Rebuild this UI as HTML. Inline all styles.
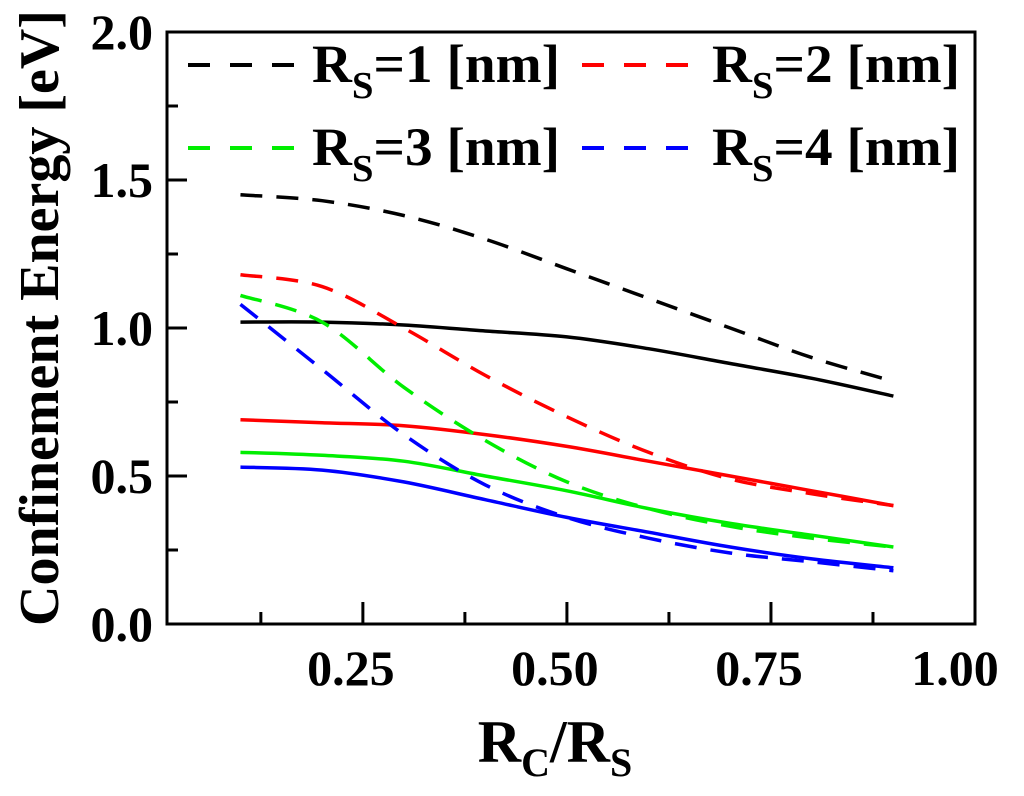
<!DOCTYPE html>
<html><head><meta charset="utf-8"><style>
body{margin:0;background:#fff}
svg text{font-family:"Liberation Serif",serif;font-weight:bold;fill:#000}
</style></head><body>
<svg width="1024" height="791">
<g id="plot"></g>
</svg>
<script>
const xs=[0.1,0.2,0.3,0.4,0.5,0.6,0.7,0.8,0.9];
const bkDash=[1.45,1.43,1.38,1.30,1.20,1.10,1.00,0.90,0.82];
const bkSolid=[1.02,1.02,1.01,0.99,0.97,0.93,0.88,0.83,0.77];
const rdDash=[1.18,1.14,1.00,0.84,0.70,0.58,0.49,0.44,0.40];
const rdSolid=[0.69,0.68,0.67,0.64,0.60,0.55,0.50,0.45,0.40];
const gnDash=[1.11,1.02,0.80,0.62,0.48,0.39,0.33,0.29,0.26];
const gnSolid=[0.58,0.57,0.55,0.50,0.45,0.39,0.34,0.30,0.26];
const buDash=[1.08,0.86,0.64,0.47,0.36,0.29,0.24,0.21,0.18];
const buSolid=[0.53,0.52,0.48,0.42,0.36,0.31,0.26,0.22,0.19];
const xTicks=[0.25,0.5,0.75,1.0];
const xTickLabels=["0.25","0.50","0.75","1.00"];
const yTicks=[0,0.5,1.0,1.5,2.0];
const yTickLabels=["0.0","0.5","1.0","1.5","2.0"];
const L=167,R=975,T=32,B=624,X0=0.01,X1=1.0,Y0=0,Y1=2;
const sx=v=>L+(v-X0)/(X1-X0)*(R-L);
const sy=v=>B-(v-Y0)/(Y1-Y0)*(B-T);
const NS="http://www.w3.org/2000/svg";
const g=document.getElementById('plot');
function mk(t,a,txt){const e=document.createElementNS(NS,t);for(const k in a)e.setAttribute(k,a[k]);if(txt!==undefined)e.textContent=txt;g.appendChild(e);return e;}
let fr=mk('rect',{x:L,y:T,width:R-L,height:B-T,fill:'none',stroke:'#000','stroke-width':3});


xTicks.forEach((v,i)=>{
 let t=mk('line',{x1:sx(v),x2:sx(v),y1:B,y2:B-22,stroke:'#000','stroke-width':3});
 
 
 let m=mk('line',{x1:sx(v-0.125),x2:sx(v-0.125),y1:B,y2:B-12,stroke:'#000','stroke-width':3});
 
 
 let l=mk('text',{x:sx(v)-(i==3?8:0)-12,y:685,'text-anchor':'middle','font-size':50},xTickLabels[i]);
 
 
});
yTicks.forEach((v,i)=>{
 let t=mk('line',{x1:L,x2:L+20,y1:sy(v),y2:sy(v),stroke:'#000','stroke-width':3});
 
 
 if(i>0){let m=mk('line',{x1:L,x2:L+11,y1:sy(v-0.25),y2:sy(v-0.25),stroke:'#000','stroke-width':3});
 
 }
 let l=mk('text',{x:153,y:sy(v)+17,'text-anchor':'end','font-size':50},yTickLabels[i]);
 
 
});
let yt=mk('text',{x:0,y:0,'text-anchor':'middle','font-size':56,transform:'translate(58,318) rotate(-90)'},'Confinement Energy [eV]');


let xt=mk('text',{x:555,y:762,'text-anchor':'middle','font-size':60});


xt.innerHTML='R<tspan font-size="40" dy="14">C</tspan><tspan dy="-14">/R</tspan><tspan font-size="40" dy="14">S</tspan>';
function smooth(px,py){let d='M'+px[0]+','+py[0];for(let i=0;i<px.length-1;i++){const p0=i?i-1:i,p3=i+2<px.length?i+2:i+1;
 const c1x=px[i]+(px[i+1]-px[p0])/6,c1y=py[i]+(py[i+1]-py[p0])/6,c2x=px[i+1]-(px[p3]-px[i])/6,c2y=py[i+1]-(py[p3]-py[i])/6;
 d+=' C'+c1x.toFixed(1)+','+c1y.toFixed(1)+' '+c2x.toFixed(1)+','+c2y.toFixed(1)+' '+px[i+1].toFixed(1)+','+py[i+1].toFixed(1);}return d;}
const series=[[bkDash,'#000',1,'black-dashed'],[bkSolid,'#000',0,'black-solid'],[rdDash,'#f00',1,'red-dashed'],[rdSolid,'#f00',0,'red-solid'],[gnDash,'#0e0',1,'green-dashed'],[gnSolid,'#0e0',0,'green-solid'],[buDash,'#00f',1,'blue-dashed'],[buSolid,'#00f',0,'blue-solid']];
series.forEach(s=>{
 const d=smooth(xs.map(sx),s[0].map(sy));
 let p=mk('path',{d:d,fill:'none',stroke:s[1],'stroke-width':3.5,'stroke-dasharray':s[2]?'22,14':'none'});
 
 
});
const leg=[['#000','1',188,312,65],['#f00','2',582,712,65],['#0e0','3',188,312,148],['#00f','4',582,712,148]];
leg.forEach(l=>{
 let ln=mk('line',{x1:l[2],x2:l[2]+106,y1:l[4],y2:l[4],stroke:l[0],'stroke-width':4,'stroke-dasharray':'22,20'});
 
 
 let t=mk('text',{x:l[3],y:l[4]+17,'font-size':54,textLength:248,lengthAdjust:'spacingAndGlyphs'});
 t.innerHTML='R<tspan font-size="38" dy="16">S</tspan><tspan dy="-16">='+l[1]+' [nm]</tspan>';
 
 
});
</script>
</body></html>
